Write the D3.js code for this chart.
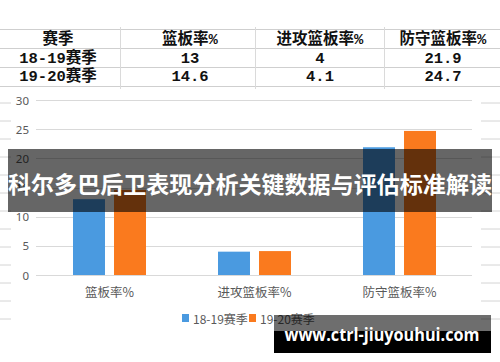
<!DOCTYPE html>
<html><head><meta charset="utf-8">
<script src="https://cdn.jsdelivr.net/npm/d3@7"></script>
<style>html,body{margin:0;padding:0;background:#fff;}svg{display:block;}</style>
</head><body>
<svg id="c" width="500" height="362"></svg>
<script>
const categories = ["篮板率%", "进攻篮板率%", "防守篮板率%"];
const seriesNames = ["18-19赛季", "19-20赛季"];
const season1819 = [13, 4, 21.9];
const season1920 = [14.6, 4.1, 24.7];
const tableHeader = ["赛季", "篮板率%", "进攻篮板率%", "防守篮板率%"];
const tableRows = [["18-19赛季", "13", "4", "21.9"], ["19-20赛季", "14.6", "4.1", "24.7"]];
const yTicks = [0, 5, 10, 15, 20, 25, 30];
const titleText = "科尔多巴后卫表现分析关键数据与评估标准解读";
const watermarkText = "www.ctrl-jiuyouhui.com";
const colors = ["#4a9ae0", "#fa7a1e"];

const svg = d3.select("#c");

// spreadsheet background residue lines at edges
const bgLines = d3.range(103, 330, 18);
svg.append("g").selectAll("line").data(bgLines).join("line")
  .attr("x1", 0).attr("x2", 11).attr("y1", d => d).attr("y2", d => d)
  .attr("stroke", "#d4d4d4").attr("stroke-width", 1);
svg.append("g").selectAll("line").data(bgLines).join("line")
  .attr("x1", 481).attr("x2", 500).attr("y1", d => d).attr("y2", d => d)
  .attr("stroke", "#d4d4d4").attr("stroke-width", 1);

// table
const colEdges = [0, 120, 255, 384, 500];
const rowLines = [29.5, 48.5, 67.5, 86.5];
const tg = svg.append("g");
tg.selectAll("line.h").data(rowLines).join("line").attr("class", "h")
  .attr("x1", 0).attr("x2", 500).attr("y1", d => d).attr("y2", d => d)
  .attr("stroke", "#cfcfcf");
tg.selectAll("line.v").data(colEdges.slice(1, 4)).join("line").attr("class", "v")
  .attr("x1", d => d + 0.5).attr("x2", d => d + 0.5).attr("y1", 27).attr("y2", 89)
  .attr("stroke", "#dadada");
const colCenters = [58, 190, 320, 443];
const allRows = [tableHeader, ...tableRows];
const rowCenters = [40, 59, 77];
allRows.forEach((row, ri) => {
  tg.selectAll(null).data(row).join("text")
    .attr("x", (d, i) => colCenters[i]).attr("y", rowCenters[ri])
    .attr("text-anchor", "middle").attr("dominant-baseline", "central")
    .attr("font-family", "'Liberation Mono','DejaVu Sans Mono','Noto Sans CJK SC',monospace")
    .attr("font-weight", "bold").attr("font-size", 15.5).attr("fill", "#111")
    .text(d => d);
});

// chart
const y = d3.scaleLinear().domain([0, 30]).range([275, 100]);
const x0 = d3.scaleBand().domain(categories).range([37, 472]).padding(0);
const x1 = d3.scaleBand().domain(seriesNames).range([36, 109]).paddingInner(0.22).paddingOuter(0);

const grid = svg.append("g");
grid.selectAll("line").data(yTicks).join("line")
  .attr("x1", 36).attr("x2", 472)
  .attr("y1", d => Math.round(y(d)) + 0.5).attr("y2", d => Math.round(y(d)) + 0.5)
  .attr("stroke", "#d9d9d9");
grid.selectAll("text").data(yTicks).join("text")
  .attr("x", 29).attr("y", d => y(d)).attr("text-anchor", "end")
  .attr("dominant-baseline", "central")
  .attr("font-family", "'Noto Sans', 'Open Sans', sans-serif").attr("font-size", 11.5)
  .attr("fill", "#595959").text(d => d);

const data = categories.map((c, i) => ({ c, vals: [season1819[i], season1920[i]] }));
const bars = svg.append("g");
data.forEach(d => {
  bars.selectAll(null).data(d.vals.map((v, k) => ({ v, k }))).join("rect")
    .attr("x", e => x0(d.c) + x1(seriesNames[e.k]))
    .attr("width", x1.bandwidth())
    .attr("y", e => y(e.v)).attr("height", e => y(0) - y(e.v))
    .attr("fill", e => colors[e.k]);
});

// x axis labels
svg.append("g").selectAll("text").data(categories).join("text")
  .attr("x", d => x0(d) + x0.bandwidth() / 2).attr("y", 291)
  .attr("text-anchor", "middle").attr("dominant-baseline", "central")
  .attr("font-family", "'Noto Sans CJK SC', sans-serif").attr("font-size", 12.5)
  .attr("fill", "#595959").text(d => d);

// legend
const lg = svg.append("g");
const legendX = [182, 249];
seriesNames.forEach((s, i) => {
  lg.append("rect").attr("x", legendX[i]).attr("y", 314).attr("width", 7).attr("height", 8).attr("fill", colors[i]);
  lg.append("text").attr("x", legendX[i] + 11).attr("y", 318.5)
    .attr("dominant-baseline", "central")
    .attr("font-family", "'Noto Sans CJK SC', sans-serif").attr("font-size", 12)
    .attr("fill", "#595959").text(s);
});

// title banner overlay
svg.append("rect").attr("x", 8).attr("y", 149).attr("width", 484).attr("height", 63)
  .attr("fill", "rgba(0,0,0,0.6)");
svg.append("text").attr("x", 250).attr("y", 183)
  .attr("text-anchor", "middle").attr("dominant-baseline", "central")
  .attr("font-family", "'Noto Sans CJK SC', sans-serif").attr("font-weight", "bold")
  .attr("font-size", 23).attr("fill", "#fff")
  .attr("textLength", 484).attr("lengthAdjust", "spacingAndGlyphs")
  .text(titleText);

// watermark
svg.append("rect").attr("x", 274).attr("y", 315).attr("width", 217).attr("height", 16)
  .attr("fill", "rgba(0,0,0,0.57)");
svg.append("rect").attr("x", 274).attr("y", 331).attr("width", 217).attr("height", 22)
  .attr("fill", "#000");
svg.append("text").attr("x", 382).attr("y", 341)
  .attr("text-anchor", "middle")
  .attr("font-family", "'Open Sans','Noto Sans',sans-serif").attr("font-weight", "bold")
  .attr("font-size", 18).attr("fill", "#fff")
  .attr("textLength", 195).attr("lengthAdjust", "spacingAndGlyphs")
  .text(watermarkText);
</script>
</body></html>
